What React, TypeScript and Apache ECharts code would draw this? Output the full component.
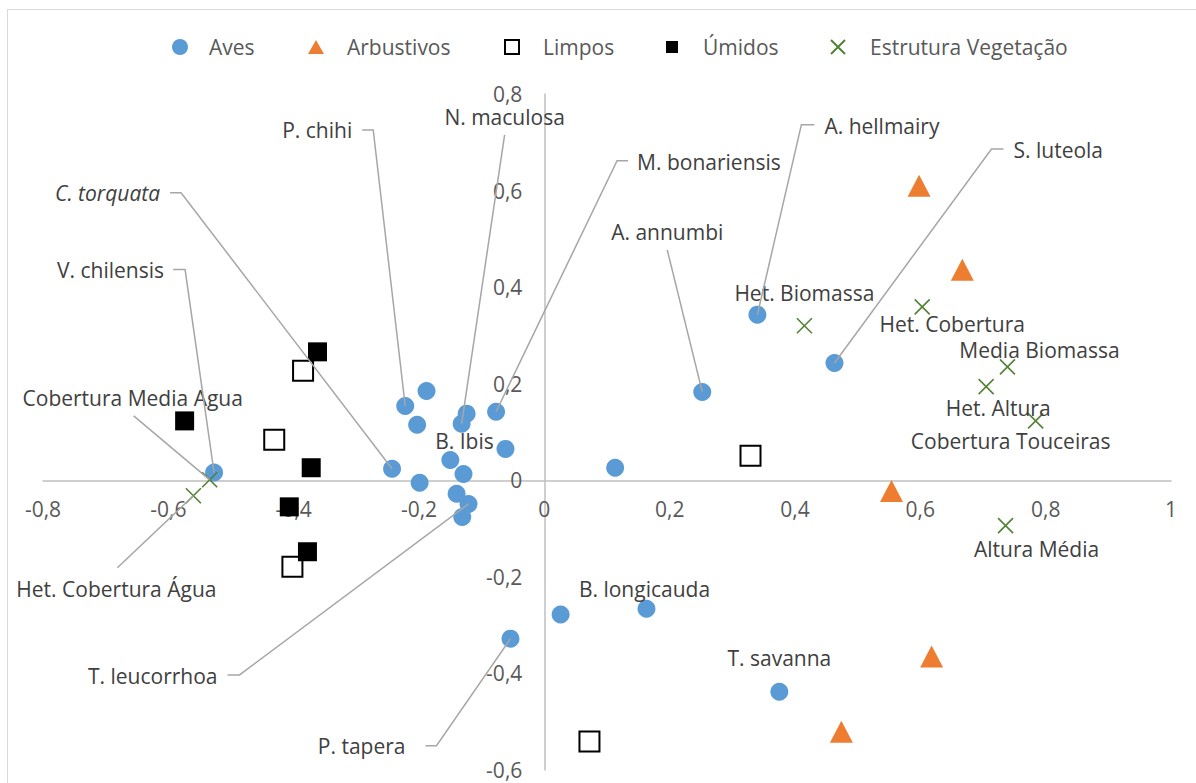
import React, { useEffect, useRef } from 'react';
import * as echarts from 'echarts';

const FONT = '"Open Sans", "Noto Sans", sans-serif';

// ---- Data ----
const avesNames = ['V. chilensis', 'C. torquata', 'P. chihi', '', '', 'N. maculosa', '', 'M. bonariensis', '', '', 'B. Ibis', '', '', 'T. leucorrhoa', '', '', 'A. annumbi', 'A. hellmairy', 'S. luteola', '', 'B. longicauda', 'P. tapera', 'T. savanna'];
const avesX = [-0.527, -0.243, -0.222, -0.188, -0.203, -0.132, -0.124, -0.077, -0.062, -0.150, -0.129, -0.199, -0.140, -0.121, -0.131, 0.113, 0.252, 0.340, 0.463, 0.026, 0.163, -0.054, 0.375];
const avesY = [0.016, 0.024, 0.154, 0.185, 0.115, 0.117, 0.138, 0.142, 0.065, 0.042, 0.013, -0.005, -0.028, -0.049, -0.076, 0.026, 0.183, 0.343, 0.243, -0.278, -0.266, -0.328, -0.438];

const arbX = [0.598, 0.667, 0.554, 0.618, 0.474];
const arbY = [0.610, 0.436, -0.022, -0.365, -0.521];

const limposX = [-0.385, -0.431, -0.402, 0.329, 0.072];
const limposY = [0.227, 0.084, -0.179, 0.051, -0.541];

const umidosX = [-0.362, -0.574, -0.372, -0.407, -0.378];
const umidosY = [0.266, 0.123, 0.026, -0.055, -0.148];

const vegNames = ['Het. Biomassa', 'Het. Cobertura', 'Media Biomassa', 'Het. Altura', 'Cobertura Touceiras', 'Altura Média', 'Cobertura Media Agua', 'Het. Cobertura Água'];
const vegX = [0.415, 0.603, 0.739, 0.705, 0.784, 0.736, -0.534, -0.560];
const vegY = [0.320, 0.359, 0.235, 0.194, 0.123, -0.094, 0.001, -0.032];

const seriesNames = ['Aves', 'Arbustivos', 'Limpos', 'Úmidos', 'Estrutura Vegetação'];

const X_MIN = -0.8, X_MAX = 1, Y_MIN = -0.6, Y_MAX = 0.8, STEP = 0.2;

// ---- Label layout (pixel offsets from the point) ----
type Lay = { dx: number; dy: number; align: 'left' | 'right' | 'center'; italic?: boolean; leader?: [number, number][] };
const labelLayout: Record<string, Lay> = {
  'V. chilensis': { dx: -50, dy: -203, align: 'right', leader: [[-41, -203], [-29, -203]] },
  'C. torquata': { dx: -232, dy: -276, align: 'right', italic: true, leader: [[-222, -276], [-211, -276]] },
  'P. chihi': { dx: -53, dy: -276, align: 'right', leader: [[-43, -276], [-32, -276]] },
  'T. leucorrhoa': { dx: -251, dy: 172, align: 'right', leader: [[-241, 171], [-229, 171]] },
  'P. tapera': { dx: -105, dy: 107, align: 'right', leader: [[-85, 107], [-74, 107]] },
  'M. bonariensis': { dx: 141, dy: -250, align: 'left', leader: [[132, -251], [121, -251]] },
  'A. hellmairy': { dx: 67, dy: -189, align: 'left', leader: [[57, -190], [44, -190]] },
  'S. luteola': { dx: 179, dy: -213, align: 'left', leader: [[169, -214], [157, -214]] },
  'N. maculosa': { dx: 43, dy: -307, align: 'center', leader: [[43, -289]] },
  'A. annumbi': { dx: -35, dy: -160, align: 'center', leader: [[-35, -142]] },
  'B. Ibis': { dx: 1, dy: -33, align: 'center' },
  'B. longicauda': { dx: -2, dy: -20, align: 'center' },
  'T. savanna': { dx: 0, dy: -34, align: 'center' },
  'Het. Biomassa': { dx: 0, dy: -33, align: 'center' },
  'Het. Cobertura': { dx: 30, dy: 17, align: 'center' },
  'Media Biomassa': { dx: 32, dy: -17, align: 'center' },
  'Het. Altura': { dx: 12, dy: 21, align: 'center' },
  'Cobertura Touceiras': { dx: -25, dy: 20, align: 'center' },
  'Altura Média': { dx: 31, dy: 23, align: 'center' },
  'Cobertura Media Agua': { dx: -77, dy: -82, align: 'center', leader: [[-76, -64]] },
  'Het. Cobertura Água': { dx: -77, dy: 93, align: 'center', leader: [[-76, 72]] },
};

const LABEL_COLOR = '#404040';
const AXIS_COLOR = '#595959';

function makeItems(xs: number[], ys: number[], names?: string[]) {
  return xs.map((x, i) => {
    const name = names ? names[i] : '';
    const lay = name ? labelLayout[name] : undefined;
    return {
      value: [x, ys[i]],
      name,
      label: lay
        ? {
            show: true,
            position: 'inside',
            formatter: name,
            offset: [lay.dx, lay.dy],
            align: lay.align,
            verticalAlign: 'middle',
            color: LABEL_COLOR,
            fontSize: 21,
            fontFamily: FONT,
            fontStyle: lay.italic ? 'italic' : 'normal',
            textBorderWidth: 0,
          }
        : { show: false },
    };
  });
}

const fmt = (v: number) => String(Math.round(v * 10) / 10).replace('.', ',');

const W = 1196, H = 783;
const GRID = { left: 43, right: 25, top: 94, bottom: 13 };

export default function App() {
  const ref = useRef<HTMLDivElement>(null);
  useEffect(() => {
    if (!ref.current) return;
    const chart = echarts.init(ref.current, undefined, { renderer: 'svg' });
    const xPath = 'path://M0,0L10,10M10,0L0,10';
    const legendSpec = [
      { name: seriesNames[0], center: 180, w: 16, h: 16, pad: 16 },
      { name: seriesNames[1], center: 316, w: 16, h: 14, pad: 18 },
      { name: seriesNames[2], center: 511, w: 14, h: 14, pad: 19 },
      { name: seriesNames[3], center: 672, w: 12, h: 12, pad: 20 },
      { name: seriesNames[4], center: 837, w: 14, h: 14, pad: 20 },
    ];
    const gridW = W - GRID.left - GRID.right;
    const gridH = H - GRID.top - GRID.bottom;
    // place the axes where the other axis crosses zero
    const xAxisOffset = -gridH * ((0 - Y_MIN) / (Y_MAX - Y_MIN));
    const yAxisOffset = -gridW * ((0 - X_MIN) / (X_MAX - X_MIN));
    chart.setOption({
      animation: false,
      backgroundColor: 'transparent',
      textStyle: { fontFamily: FONT },
      grid: { ...GRID, containLabel: false, outerBoundsMode: 'none' },
      legend: legendSpec.map((l) => ({
        data: [l.name],
        left: l.center - l.w / 2,
        top: 35,
        padding: 0,
        itemWidth: l.w,
        itemHeight: l.h,
        selectedMode: false,
        textStyle: { color: AXIS_COLOR, fontSize: 21, fontFamily: FONT, padding: [0, 0, 0, l.pad], lineHeight: 24 },
      })),
      xAxis: {
        type: 'value',
        min: X_MIN,
        max: X_MAX,
        interval: STEP,
        position: 'bottom',
        offset: xAxisOffset,
        axisLine: { show: true, onZero: false, lineStyle: { color: '#bfbfbf', width: 1.5 } },
        axisTick: { show: false },
        splitLine: { show: false },
        axisLabel: { color: AXIS_COLOR, fontSize: 21, fontFamily: FONT, margin: 18, formatter: fmt },
      },
      yAxis: {
        type: 'value',
        min: Y_MIN,
        max: Y_MAX,
        interval: STEP,
        position: 'left',
        offset: yAxisOffset,
        axisLine: { show: true, onZero: false, lineStyle: { color: '#bfbfbf', width: 1.5 } },
        axisTick: { show: false },
        splitLine: { show: false },
        axisLabel: { color: AXIS_COLOR, fontSize: 21, fontFamily: FONT, margin: 22, formatter: fmt },
      },
      series: [
        {
          name: seriesNames[0],
          type: 'scatter',
          symbol: 'circle',
          symbolSize: 18,
          itemStyle: { color: '#5b9bd5', opacity: 1 },
          data: makeItems(avesX, avesY, avesNames),
        },
        {
          name: seriesNames[1],
          type: 'scatter',
          symbol: 'triangle',
          symbolSize: [23, 22],
          itemStyle: { color: '#ed7d31', opacity: 1 },
          data: makeItems(arbX, arbY),
        },
        {
          name: seriesNames[2],
          type: 'scatter',
          symbol: 'rect',
          symbolSize: 20,
          itemStyle: { color: '#ffffff', borderColor: '#000000', borderWidth: 2, opacity: 1 },
          data: makeItems(limposX, limposY),
        },
        {
          name: seriesNames[3],
          type: 'scatter',
          symbol: 'rect',
          symbolSize: 19,
          itemStyle: { color: '#000000', opacity: 1 },
          data: makeItems(umidosX, umidosY),
        },
        {
          name: seriesNames[4],
          type: 'scatter',
          symbol: xPath,
          symbolSize: 15,
          itemStyle: { color: 'rgba(0,0,0,0)', borderColor: '#548235', borderWidth: 1.6, opacity: 1 },
          data: makeItems(vegX, vegY, vegNames),
        },
      ],
    });

    // Leader lines, anchored to the points via the chart's own scales
    const graphics: any[] = [];
    const groups: [number[], number[], string[]][] = [
      [avesX, avesY, avesNames],
      [vegX, vegY, vegNames],
    ];
    groups.forEach(([xs, ys, names]) => {
      names.forEach((nm, i) => {
        const lay = nm ? labelLayout[nm] : undefined;
        if (!lay || !lay.leader) return;
        const p = chart.convertToPixel({ xAxisIndex: 0, yAxisIndex: 0 }, [xs[i], ys[i]]) as number[];
        const pts = lay.leader.map(([a, b]) => [p[0] + a, p[1] + b]);
        pts.push([p[0], p[1]]);
        graphics.push({
          type: 'polyline',
          silent: true,
          z: 100,
          shape: { points: pts },
          style: { stroke: '#a6a6a6', lineWidth: 1.5, fill: 'none' },
        });
      });
    });
    chart.setOption({ graphic: graphics });

    return () => chart.dispose();
  }, []);
  return (
    <div style={{ position: 'absolute', left: 0, top: 0, width: W, height: H, overflow: 'hidden', background: '#ffffff' }}>
      <div
        style={{
          position: 'absolute',
          left: 7,
          top: 9,
          width: W + 20,
          height: H + 20,
          borderLeft: '1px solid #d9d9d9',
          borderTop: '1px solid #d9d9d9',
          boxSizing: 'border-box',
          pointerEvents: 'none',
        }}
      />
      <div ref={ref} style={{ position: 'absolute', left: 0, top: 0, width: W, height: H }} />
    </div>
  );
}
